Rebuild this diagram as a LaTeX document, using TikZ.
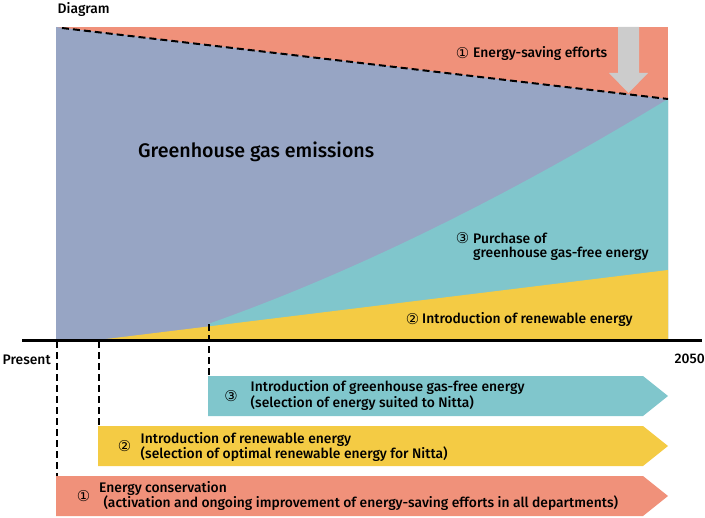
\documentclass[tikz,border=0pt]{standalone}
\usepackage{fontspec}
\setmainfont{Fira Sans}[UprightFont={* Medium}]
\newfontfamily\dv{DejaVu Sans}
\definecolor{salmon}{RGB}{240,145,122}
\definecolor{bluegrey}{RGB}{151,165,196}
\definecolor{tealc}{RGB}{128,198,204}
\definecolor{yell}{RGB}{244,203,68}
\definecolor{greyarr}{RGB}{204,204,204}
\begin{document}
\begin{tikzpicture}[x=1bp,y=-1bp,
  lbl/.style={anchor=base west,inner sep=0pt,font=\fontsize{13.9}{16}\selectfont},
  num/.style={anchor=center,inner sep=0pt,font=\dv\fontsize{15}{16}\selectfont},
  dashln/.style={line width=2bp,dash pattern=on 7bp off 4bp},
  band/.style={draw=none}]
\useasboundingbox (0,0) rectangle (705,518);
% chart regions
\fill[salmon] (56,27) rectangle (668,99);
\fill[bluegrey] (56,27) -- (668,99) -- (668,340) -- (56,340) -- cycle;
\coordinate (tstart) at (208,324);
\coordinate (tend) at (668,99);
\fill[tealc] (tstart) .. controls (350.7,273.7) and (504,198.7) .. (tend) -- (668,340) -- (208,340) -- cycle;
\fill[yell] (98,340) -- (668,270) -- (668,340) -- cycle;
% grey arrow
\fill[greyarr] (618,27) -- (639,27) -- (639,73) -- (648,73) -- (628.5,93) -- (609,73) -- (618,73) -- cycle;
% dashed boundary
\coordinate (d1) at (62,28);
\coordinate (d2) at (668,99);
\draw[dashln] (d1) -- (d2);
% axis
\coordinate (ax1) at (22,340.5);
\coordinate (ax2) at (702,340.5);
\draw[line width=2.2bp] (ax1) -- (ax2);
% bottom arrows
\fill[tealc] (208,376) -- (643,376) -- (668,396) -- (643,416) -- (208,416) -- cycle;
\fill[yell] (98,426) -- (643,426) -- (668,446) -- (643,466) -- (98,466) -- cycle;
\fill[salmon] (56,476) -- (643,476) -- (668,496) -- (643,516) -- (56,516) -- cycle;
% vertical dashed lines
\coordinate (v1a) at (57,341); \coordinate (v1b) at (57,476);
\coordinate (v2a) at (99,341); \coordinate (v2b) at (99,426);
\coordinate (v3a) at (209,324); \coordinate (v3b) at (209,376);
\draw[dashln] (v1a) -- (v1b);
\draw[dashln] (v2a) -- (v2b);
\draw[dashln] (v3a) -- (v3b);
% texts
\node[lbl] (tdiag) at (57.5,13.3) {Diagram};
\node[num] (n1a) at (462.5,53) {①};
\node[lbl] (tsave) at (473,57.7) {Energy-saving efforts};
\node[lbl,font=\fontsize{19.7}{20}\selectfont] (tghg) at (138,158) {Greenhouse gas emissions};
\node[num] (n3a) at (462.5,238.5) {③};
\node[lbl] (tpur1) at (473,243.3) {Purchase of};
\node[lbl] (tpur2) at (473,257.3) {greenhouse gas-free energy};
\node[num] (n2a) at (412.5,319) {②};
\node[lbl] (tren) at (422,323.3) {Introduction of renewable energy};
\node[lbl] (tpres) at (2.5,364) {Present};
\node[lbl] (t2050) at (674.5,363.3) {2050};
\node[num] (n3b) at (231,396) {③};
\node[lbl] (a3l1) at (250.5,391.7) {Introduction of greenhouse gas-free energy};
\node[lbl] (a3l2) at (250.5,407.7) {(selection of energy suited to Nitta)};
\node[num] (n2b) at (124.5,446.3) {②};
\node[lbl] (a2l1) at (140.5,443.3) {Introduction of renewable energy};
\node[lbl] (a2l2) at (140.5,458.3) {(selection of optimal renewable energy for Nitta)};
\node[num] (n1b) at (83.5,496.3) {①};
\node[lbl] (a1l1) at (99,492.3) {Energy conservation};
\node[lbl] (a1l2) at (103.3,507.3) {(activation and ongoing improvement of energy-saving efforts in all departments)};
\end{tikzpicture}
\end{document}
